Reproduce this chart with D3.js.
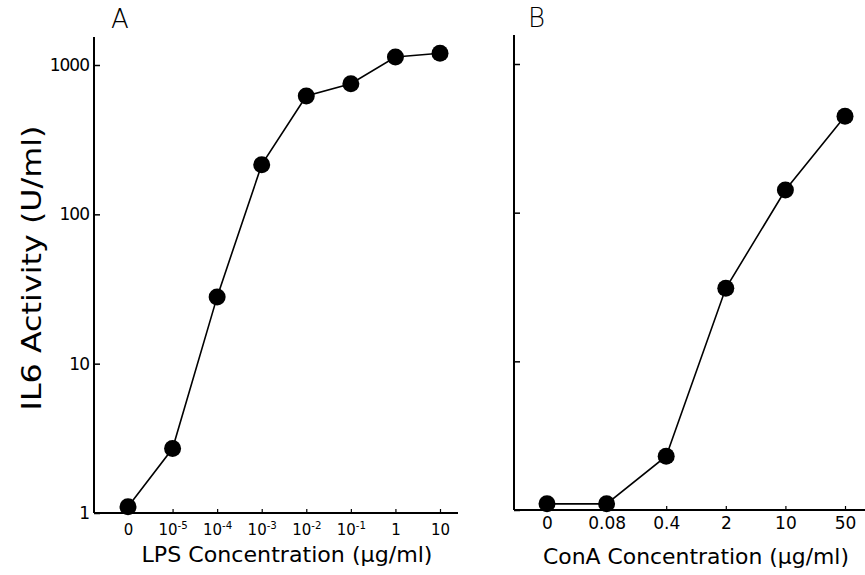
<!DOCTYPE html>
<html>
<head>
<meta charset="utf-8">
<script src="https://cdn.jsdelivr.net/npm/d3@7"></script>
<style>
  body { margin: 0; background: #fff; }
  text { font-family: "DejaVu Sans", sans-serif; fill: #000; }
</style>
</head>
<body>
<script>
// values
const lpsLabels = ["0", "10^-5", "10^-4", "10^-3", "10^-2", "10^-1", "1", "10"];
const lpsActivity = [1.1, 2.7, 28, 215, 620, 750, 1130, 1200];

const conaLabels = ["0", "0.08", "0.4", "2", "10", "50"];
const conaActivity = [1.1, 1.1, 2.3, 31, 142, 445];

const yTicks = [1, 10, 100, 1000];

const width = 865;
const height = 575;
const r = 8.5;

const svg = d3.select("body").append("svg")
    .attr("width", width)
    .attr("height", height);

// superscript helper for tick labels like 10^-5
const supLabel = function(sel) {
    sel.each(function(d) {
        const t = d3.select(this);
        const parts = String(d).split("^");
        t.text(parts[0]);
        if (parts.length > 1) {
            t.append("tspan")
                .attr("font-size", "0.68em")
                .attr("dy", "-0.55em")
                .text(parts[1]);
        }
    });
};

const drawPanel = (opts) => {
    const g = svg.append("g");

    const x = d3.scalePoint()
        .domain(opts.labels)
        .range([opts.xFirst, opts.xLast]);

    const y = d3.scaleLog()
        .domain([1, 1000])
        .range([opts.yBottom, opts.yTop]);

    // y axis line + ticks
    g.append("line")
        .attr("x1", opts.left).attr("x2", opts.left)
        .attr("y1", opts.axisTop).attr("y2", opts.yBottom)
        .attr("stroke", "#000").attr("stroke-width", 2);

    const yAxis = d3.axisLeft(y)
        .tickValues(yTicks)
        .tickSizeInner(-6)
        .tickSizeOuter(0)
        .tickPadding(5)
        .tickFormat(opts.showYLabels ? d3.format("d") : () => "");

    g.append("g")
        .attr("transform", `translate(${opts.left},0)`)
        .call(yAxis)
        .call(a => a.select(".domain").remove())
        .call(a => a.selectAll(".tick line").attr("stroke-width", 1.5))
        .call(a => a.selectAll(".tick text")
            .attr("font-size", 17)
            .attr("letter-spacing", -1)
            .style("font-family", "DejaVu Sans"));

    // x axis line + ticks
    g.append("line")
        .attr("x1", opts.left).attr("x2", opts.axisRight)
        .attr("y1", opts.yBottom).attr("y2", opts.yBottom)
        .attr("stroke", "#000").attr("stroke-width", 2);

    const xAxis = d3.axisBottom(x)
        .tickSizeInner(-4)
        .tickSizeOuter(0)
        .tickPadding(opts.xPad);

    g.append("g")
        .attr("transform", `translate(0,${opts.yBottom})`)
        .call(xAxis)
        .call(a => a.select(".domain").remove())
        .call(a => a.selectAll(".tick line").attr("stroke-width", 1.2))
        .call(a => a.selectAll(".tick text")
            .attr("font-size", opts.xFont)
            .style("font-family", "DejaVu Sans")
            .call(supLabel));

    // data line and points
    const pts = opts.labels.map((l, i) => ({ label: l, value: opts.values[i] }));

    g.append("path")
        .datum(pts)
        .attr("fill", "none")
        .attr("stroke", "#000")
        .attr("stroke-width", 1.6)
        .attr("d", d3.line().x(d => x(d.label)).y(d => y(d.value)));

    g.selectAll("circle")
        .data(pts)
        .join("circle")
        .attr("cx", d => x(d.label))
        .attr("cy", d => y(d.value))
        .attr("r", r)
        .attr("fill", "#000");

    // x title
    g.append("text")
        .attr("x", opts.titleX)
        .attr("y", opts.titleY)
        .attr("text-anchor", "middle")
        .attr("font-size", 21)
        .attr("textLength", opts.titleLen)
        .attr("lengthAdjust", "spacingAndGlyphs")
        .text(opts.title);

    // panel letter
    g.append("text")
        .attr("x", opts.letterX)
        .attr("y", opts.letterY)
        .attr("font-size", 26)
        .attr("font-weight", 300)
        .text(opts.letter);
};

drawPanel({
    labels: lpsLabels,
    values: lpsActivity,
    left: 94,
    axisRight: 458,
    axisTop: 37,
    yTop: 65,
    yBottom: 513,
    xFirst: 128,
    xLast: 440,
    xPad: 11,
    xFont: 15,
    showYLabels: true,
    title: "LPS Concentration (\u03bcg/ml)",
    titleX: 287,
    titleY: 562,
    titleLen: 291,
    letter: "A",
    letterX: 111,
    letterY: 28
});

drawPanel({
    labels: conaLabels,
    values: conaActivity,
    left: 514,
    axisRight: 865,
    axisTop: 35,
    yTop: 64,
    yBottom: 510,
    xFirst: 547,
    xLast: 845,
    xPad: 7,
    xFont: 17,
    showYLabels: false,
    title: "ConA Concentration (\u03bcg/ml)",
    titleX: 696,
    titleY: 564,
    titleLen: 306,
    letter: "B",
    letterX: 528,
    letterY: 27
});

// shared y title
svg.append("text")
    .attr("transform", "translate(41,268) rotate(-90)")
    .attr("text-anchor", "middle")
    .attr("font-size", 26)
    .attr("textLength", 285)
    .attr("lengthAdjust", "spacingAndGlyphs")
    .text("IL6 Activity (U/ml)");
</script>
</body>
</html>
